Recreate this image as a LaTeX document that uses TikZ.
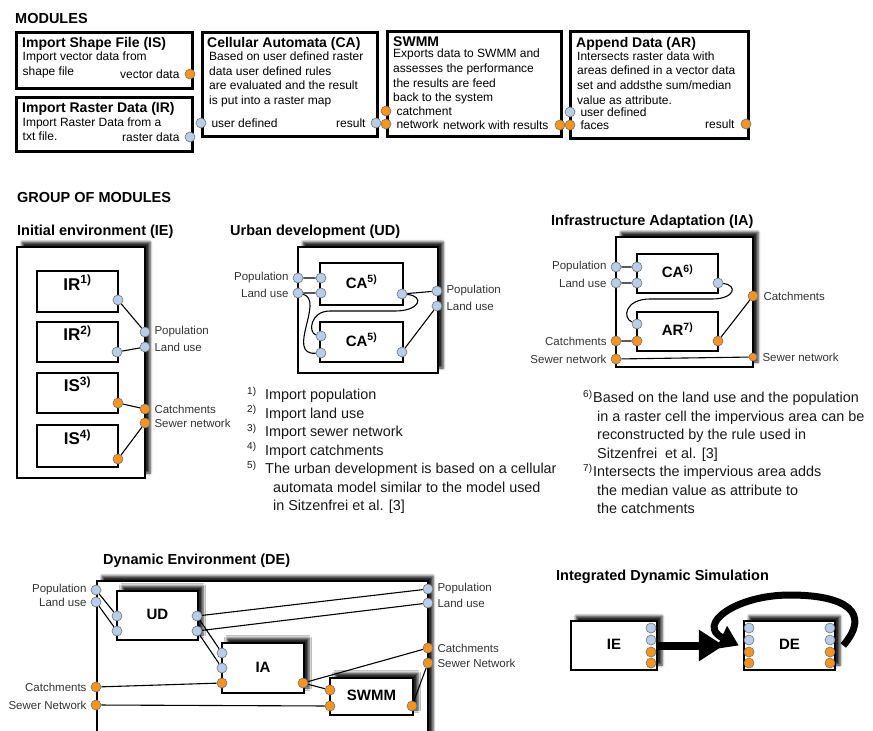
\documentclass[tikz,border=0pt]{standalone}
\usepackage{fontspec}
\setmainfont{Liberation Sans}
\usetikzlibrary{arrows.meta,positioning,shadows.blur}
\definecolor{portorange}{RGB}{247,148,30}
\definecolor{portblue}{RGB}{183,205,232}

\begin{document}
\begin{tikzpicture}[x=1pt,y=-1pt,
 title/.style={font=\fontsize{14.5}{17}\selectfont\bfseries,anchor=base west,inner sep=0pt},
 modtitle/.style={font=\fontsize{14}{17}\selectfont\bfseries,anchor=base west,inner sep=0pt},
 modbox/.style={draw,line width=2.5pt,anchor=north west,inner sep=0pt},
 modtext/.style={font=\fontsize{12}{14.7}\selectfont,align=left,anchor=base west,inner sep=0pt},
 porttext/.style={font=\fontsize{12}{14}\selectfont,inner sep=0pt},
 lbl/.style={font=\fontsize{11.5}{13}\selectfont,text=black!80,inner sep=0pt},
 note/.style={font=\fontsize{14.4}{18.5}\selectfont,align=left,anchor=base west,inner sep=0pt,text=black!90},
 softshadow/.style={blur shadow={shadow xshift=5pt,shadow yshift=5pt,shadow blur radius=2.5pt,shadow opacity=85}},
 grpbox/.style={draw,line width=1.2pt,fill=white,softshadow},
 inbox/.style={draw,line width=2.5pt,fill=white,font=\fontsize{15}{17}\selectfont\bfseries,text height=11pt,text depth=3pt},
 iebox/.style={inbox,font=\fontsize{17}{19}\selectfont\bfseries,text height=12pt,text depth=15pt,minimum width=81pt},
 port/.style={circle,draw=black!55,line width=0.6pt,minimum size=10pt,inner sep=0pt},
 pb/.style={port,fill=portblue}, po/.style={port,fill=portorange},
 wire/.style={line width=1.1pt},
 fat/.style={line width=8pt,-{Triangle[length=25pt,width=30pt]}},
 looparrow/.style={line width=7pt,-{Triangle[length=19pt,width=24pt]}}]
\path[use as bounding box,clip] (0,0) rectangle (873,731);

% modules (multi-line texts sit on their last baseline)
\node[title] (t-mod) at (15,23.5) {MODULES};
\node[modbox,minimum width=176pt,minimum height=56pt] (is) at (15,31) {};
\node[modtitle] (is-t) at (22,47.3) {Import Shape File (IS)};
\node[modtext] (is-d) at (22.5,75.2) {Import vector data from\\shape file};
\node[po] (is-vec) at (190,74) {}; \node[porttext,left=5pt of is-vec] (is-vec-t) {vector data};

\node[modbox,minimum width=176pt,minimum height=54pt] (ir) at (15,96) {};
\node[modtitle] (ir-t) at (22,112.3) {Import Raster Data (IR)};
\node[modtext] (ir-d) at (22.5,140.7) {Import Raster Data from a\\txt file.};
\node[pb] (ir-ras) at (190,137) {}; \node[porttext,left=5pt of ir-ras] (ir-ras-t) {raster data};

\node[modbox,minimum width=175pt,minimum height=104pt] (ca) at (201,31) {};
\node[modtitle] (ca-t) at (207,47.3) {Cellular Automata (CA)};
\node[modtext] (ca-d) at (209,104.6) {Based on user defined raster\\data user defined rules\\are evaluated and the result\\is put into a raster map};
\node[pb] (ca-in) at (201,123) {}; \node[porttext,right=5pt of ca-in] (ca-in-t) {user defined};
\node[pb] (ca-out) at (376,123) {}; \node[porttext,left=5pt of ca-out] (ca-out-t) {result};

\node[modbox,minimum width=174pt,minimum height=105pt] (sw) at (386,30) {};
\node[modtitle] (sw-t) at (393,46) {SWMM};
\node[modtext] (sw-d) at (393,101.9) {Exports data to SWMM and\\assesses the performance\\the results are feed\\back to the system};
\node[po] (sw-c) at (386,111) {}; \node[porttext,right=5pt of sw-c] (sw-c-t) {catchment};
\node[po] (sw-n) at (386,124) {}; \node[porttext,right=5pt of sw-n] (sw-n-t) {network};
\node[po] (sw-out) at (560,125) {}; \node[porttext,left=6pt of sw-out] (sw-out-t) {network with results};

\node[modbox,minimum width=178pt,minimum height=107pt] (ar) at (569,30) {};
\node[modtitle] (ar-t) at (576,47) {Append Data (AR)};
\node[modtext] (ar-d) at (577,104.1) {Intersects raster data with\\areas defined in a vector data\\set and addsthe sum/median\\value as attribute.};
\node[pb] (ar-ud) at (570,112) {}; \node[porttext,right=5pt of ar-ud] (ar-ud-t) {user defined};
\node[po] (ar-f) at (570,125) {}; \node[porttext,right=5pt of ar-f] (ar-f-t) {faces};
\node[po] (ar-out) at (746,124) {}; \node[porttext,left=6pt of ar-out] (ar-out-t) {result};

% group of modules
\node[title] (t-grp) at (17,202) {GROUP OF MODULES};

% initial environment
\node[title] (t-ie) at (17,235) {Initial environment (IE)};
\node[grpbox,minimum width=128pt,minimum height=231pt] (ie) at (81,362.5) {};
\node[iebox,minimum height=41pt] (ir1) at (77.5,291.5) {IR\textsuperscript{1)}};
\node[iebox,minimum height=40pt] (ir2) at (77.5,342) {IR\textsuperscript{2)}};
\node[iebox,minimum height=40pt] (is3) at (77.5,393) {IS\textsuperscript{3)}};
\node[iebox,minimum height=42pt] (is4) at (77.5,446) {IS\textsuperscript{4)}};
\node[pb] (ir1-p) at (118,300) {}; \node[pb] (ir2-p) at (117,352) {};
\node[po] (is3-p) at (118,403) {}; \node[po] (is4-p) at (118,459) {};
\node[pb] (ie-pop) at (145,332) {}; \node[pb] (ie-lu) at (145,347) {};
\node[po] (ie-cat) at (145,409) {}; \node[po] (ie-sew) at (145,423) {};
\node[lbl,right=4pt of ie-pop] (ie-pop-t) {Population}; \node[lbl,right=4pt of ie-lu] (ie-lu-t) {Land use};
\node[lbl,right=4pt of ie-cat] (ie-cat-t) {Catchments}; \node[lbl,right=4pt of ie-sew] (ie-sew-t) {Sewer network};
\draw[wire] (ir1-p)--(ie-pop) (ir2-p)--(ie-lu) (is3-p)--(ie-cat) (is4-p)--(ie-sew);

% urban development
\node[title] (t-ud) at (230,235) {Urban development (UD)};
\node[grpbox,minimum width=140pt,minimum height=126pt] (ud) at (368,310) {};
\node[inbox,minimum width=83pt,minimum height=42pt] (uda) at (361.5,284) {CA\textsuperscript{5)}};
\node[inbox,minimum width=83pt,minimum height=40pt] (udb) at (361.5,342) {CA\textsuperscript{5)}};
\node[pb] (ud-pop) at (298,278) {}; \node[pb] (ud-lu) at (298,293) {};
\node[pb] (uda-l1) at (321,278) {}; \node[pb] (uda-l2) at (321,293) {}; \node[pb] (uda-r) at (402,294) {};
\node[pb] (udb-l1) at (321,336) {}; \node[pb] (udb-l2) at (321,353) {}; \node[pb] (udb-r) at (402,352) {};
\node[pb] (ud-opop) at (437,291) {}; \node[pb] (ud-olu) at (437,306) {};
\node[lbl,left=4pt of ud-pop] (ud-pop-t) {Population}; \node[lbl,left=4pt of ud-lu] (ud-lu-t) {Land use};
\node[lbl,right=4pt of ud-opop] (ud-opop-t) {Population}; \node[lbl,right=4pt of ud-olu] (ud-olu-t) {Land use};
\draw[wire] (ud-pop)--(uda-l1) (ud-lu)--(uda-l2) (uda-r)--(ud-opop) (udb-r)--(ud-olu);
\draw[wire] (ud-lu) .. controls (325,300) and (285,355) .. (udb-l2);
\draw[wire] (uda-r) .. controls (425,296) and (420,311) .. (395,311) -- (330,311) .. controls (310,311) and (308,333) .. (udb-l1);
\node[note] (ud-notes) at (247,510.5) {\makebox[18pt][l]{\textsuperscript{1)}}Import population\\
 \makebox[18pt][l]{\textsuperscript{2)}}Import land use\\
 \makebox[18pt][l]{\textsuperscript{3)}}Import sewer network\\
 \makebox[18pt][l]{\textsuperscript{4)}}Import catchments\\
 \makebox[18pt][l]{\textsuperscript{5)}}The urban development is based on a cellular\\
 \hspace*{26pt}automata model similar to the model used\\
 \hspace*{26pt}in Sitzenfrei et al. [3]};

% infrastructure adaptation
\node[title] (t-ia) at (551,225) {Infrastructure Adaptation (IA)};
\node[grpbox,minimum width=137pt,minimum height=130pt] (ia) at (684.5,302) {};
\node[inbox,minimum width=81pt,minimum height=39pt] (iaa) at (677.5,273.5) {CA\textsuperscript{6)}};
\node[inbox,minimum width=81pt,minimum height=39pt] (iab) at (677.5,331.5) {AR\textsuperscript{7)}};
\node[pb] (ia-pop) at (616,267) {}; \node[pb] (ia-lu) at (616,283) {};
\node[po] (ia-cat) at (616,341) {}; \node[po] (ia-sew) at (616,359) {};
\node[pb] (iaa-l1) at (637,267) {}; \node[pb] (iaa-l2) at (637,283) {}; \node[pb] (iaa-r) at (718,283) {};
\node[pb] (iab-l1) at (637,324) {}; \node[po] (iab-l2) at (637,341) {}; \node[po] (iab-r) at (718,341) {};
\node[po] (ia-ocat) at (753,296) {}; \node[po,minimum size=8pt] (ia-osew) at (753,357) {};
\node[lbl,left=4pt of ia-pop] (ia-pop-t) {Population}; \node[lbl,left=4pt of ia-lu] (ia-lu-t) {Land use};
\node[lbl,left=4pt of ia-cat] (ia-cat-t) {Catchments}; \node[lbl,left=4pt of ia-sew] (ia-sew-t) {Sewer network};
\node[lbl,right=5pt of ia-ocat] (ia-ocat-t) {Catchments}; \node[lbl,right=5pt of ia-osew] (ia-osew-t) {Sewer network};
\draw[wire] (ia-pop)--(iaa-l1) (ia-lu)--(iaa-l2) (ia-cat)--(iab-l2) (iab-r)--(ia-ocat) (ia-sew)--(ia-osew);
\draw[wire] (iaa-r) .. controls (738,285) and (735,299) .. (712,299) -- (650,299) .. controls (625,299) and (622,318) .. (iab-l1);
\node[note] (ia-notes) at (583,513.5) {\makebox[10pt][l]{\textsuperscript{6)}}Based on the land use and the population\\
 \hspace*{14pt}in a raster cell the impervious area can be\\
 \hspace*{14pt}reconstructed by the rule used in\\
 \hspace*{14pt}Sitzenfrei\ \ et al. [3]\\
 \makebox[10pt][l]{\textsuperscript{7)}}Intersects the impervious area adds\\
 \hspace*{14pt}the median value as attribute to\\
 \hspace*{14pt}the catchments};

% dynamic environment
\node[title] (t-de) at (103,564.5) {Dynamic Environment (DE)};
\node[grpbox,minimum width=331pt,minimum height=179pt] (de) at (262.5,670.5) {};
\node[inbox,softshadow,minimum width=81pt,minimum height=49pt] (deud) at (157.5,615.5) {UD};
\node[inbox,softshadow,minimum width=82pt,minimum height=50pt] (deia) at (263,668) {IA};
\node[inbox,softshadow,minimum width=83pt,minimum height=37pt] (desw) at (371.5,696.5) {SWMM};
\node[pb] (de-pop) at (96,590) {}; \node[pb] (de-lu) at (96,602) {};
\node[po] (de-cat) at (96,687) {}; \node[po] (de-sew) at (96,705) {};
\node[pb] (deud-l1) at (117,616) {}; \node[pb] (deud-l2) at (117,631) {};
\node[pb] (deud-r1) at (197,616) {}; \node[pb] (deud-r2) at (197,631) {};
\node[pb] (deia-l1) at (222,653) {}; \node[pb] (deia-l2) at (222,668) {}; \node[po] (deia-l3) at (222,683) {};
\node[po] (deia-r) at (303,683) {};
\node[po] (desw-l1) at (330,690) {}; \node[po] (desw-l2) at (330,706) {}; \node[po] (desw-r) at (412,706) {};
\node[pb] (de-opop) at (428,589) {}; \node[pb] (de-olu) at (428,603) {};
\node[po] (de-ocat) at (428,648) {}; \node[po] (de-osew) at (428,663) {};
\node[lbl,left=4pt of de-pop] (de-pop-t) {Population}; \node[lbl,left=4pt of de-lu] (de-lu-t) {Land use};
\node[lbl,left=4pt of de-cat] (de-cat-t) {Catchments}; \node[lbl,left=4pt of de-sew] (de-sew-t) {Sewer Network};
\node[lbl,right=4pt of de-opop] (de-opop-t) {Population}; \node[lbl,right=4pt of de-olu] (de-olu-t) {Land use};
\node[lbl,right=4pt of de-ocat] (de-ocat-t) {Catchments}; \node[lbl,right=4pt of de-osew] (de-osew-t) {Sewer Network};
\draw[wire] (de-pop)--(deud-l1) (de-lu)--(deud-l2) (deud-r1)--(de-opop) (deud-r2)--(de-olu)
 (deud-r1)--(deia-l1) (deud-r2)--(deia-l2) (de-cat)--(deia-l3) (deia-r)--(de-ocat)
 (deia-r)--(desw-l1) (de-sew)--(desw-l2) (desw-r)--(de-osew);

% integrated dynamic simulation
\node[title] (t-ids) at (556,580) {Integrated Dynamic Simulation};
\node[inbox,softshadow,minimum width=86pt,minimum height=49pt] (idsie) at (614,645.5) {IE};
\node[inbox,softshadow,minimum width=91pt,minimum height=49pt] (idsde) at (789.5,645.5) {DE};
\foreach \y/\c [count=\i] in {628/portblue,640/portblue,652/portorange,663/portorange}{
 \node[port,fill=\c] (idsie-r\i) at (651,\y) {};
 \node[port,fill=\c] (idsde-l\i) at (749,\y) {};
 \node[port,fill=\c] (idsde-r\i) at (830,\y) {};
}
\draw[fat] (idsie) -- ([xshift=-19pt]idsde.west);
\draw[looparrow] ([xshift=7pt]idsde.east) .. controls (872,612) and (845,595) .. (790,595) .. controls (735,595) and (696,625) .. ([xshift=-4pt]idsde.west);
\end{tikzpicture}
\end{document}
